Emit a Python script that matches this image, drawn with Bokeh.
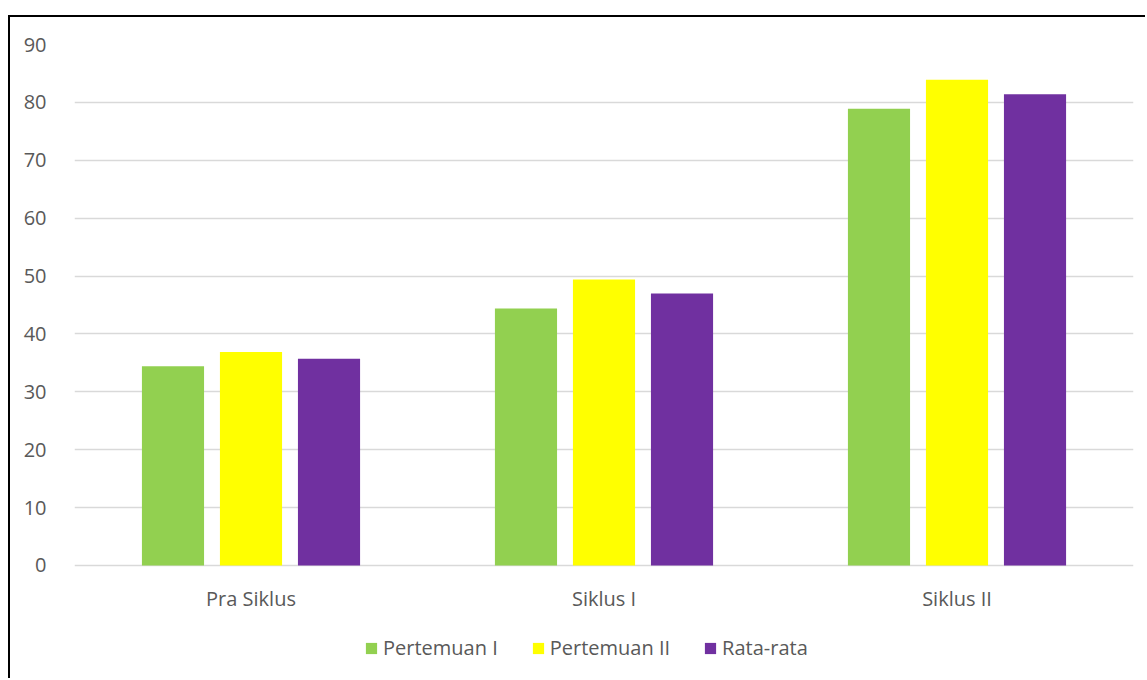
from bokeh.plotting import figure
from bokeh.models import FactorRange, Range1d, ColumnDataSource, Legend, LegendItem, FixedTicker
from bokeh.core.properties import value
from bokeh.transform import dodge
from bokeh.embed import file_html
from bokeh.resources import INLINE

categories = ["Pra Siklus", "Siklus I", "Siklus II"]
pertemuan1 = [34.4, 44.4, 78.9]
pertemuan2 = [36.9, 49.4, 83.9]
rata_rata = [35.7, 47.0, 81.4]
series_names = ["Pertemuan I", "Pertemuan II", "Rata-rata"]
colors = ["#92d050", "#ffff00", "#7030a0"]
y_ticks = [0, 10, 20, 30, 40, 50, 60, 70, 80, 90]

source = ColumnDataSource(dict(cat=categories, p1=pertemuan1, p2=pertemuan2, rr=rata_rata,
                               label_y=[-5.7] * len(categories)))

FONT = "Open Sans"
FS = "20px"
TXT = "#595959"
p = figure(x_range=FactorRange(factors=categories, range_padding=0),
           y_range=Range1d(-19.87, 90), width=1137, height=663,
           output_backend="svg", toolbar_location=None, x_axis_location=None,
           min_border_left=64, min_border_right=14, min_border_top=27, min_border_bottom=0)
p.x_range.range_padding = 0
p.margin = (15, 0, 0, 8)
p.styles = {"border-left": "2px solid black", "border-top": "2px solid black"}

offsets = [-0.221, 0.0, 0.221]
renderers = []
for col, off, c in zip(["p1", "p2", "rr"], offsets, colors):
    r = p.vbar(x=dodge("cat", off, range=p.x_range), top=col, width=0.176, source=source,
               fill_color=c, line_color=None)
    renderers.append(r)

p.text(x="cat", y="label_y", text="cat", source=source, text_align="center",
       text_baseline="middle", text_font=value(FONT), text_font_size=FS, text_color=TXT)

p.outline_line_color = None
p.xgrid.grid_line_color = None
p.ygrid.grid_line_color = "#d9d9d9"
p.ygrid.grid_line_width = 1.3
p.yaxis.ticker = FixedTicker(ticks=y_ticks)
p.yaxis.axis_line_color = None
p.yaxis.major_tick_line_color = None
p.yaxis.minor_tick_line_color = None
p.yaxis.major_label_text_font = FONT
p.yaxis.major_label_text_font_size = FS
p.yaxis.major_label_text_color = TXT
p.yaxis.major_label_standoff = 22

legend = Legend(items=[LegendItem(label=n, renderers=[r]) for n, r in zip(series_names, renderers)],
                orientation="horizontal", location=(290, 19),
                label_text_font=FONT, label_text_font_size=FS, label_text_color=TXT,
                glyph_width=14, glyph_height=14, label_standoff=5, spacing=33,
                border_line_color=None, background_fill_alpha=0, margin=0, padding=0,
                label_height=14)
p.add_layout(legend, "center")

open("out.html", "w").write(file_html(p, INLINE))
